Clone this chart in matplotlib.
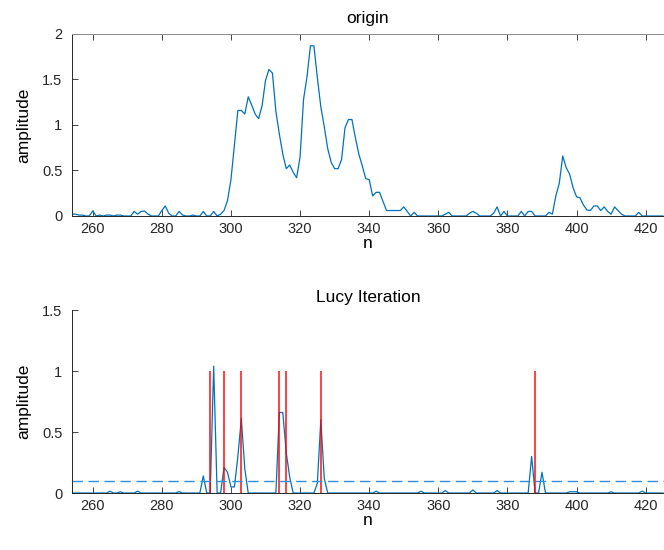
import numpy as np
import matplotlib
matplotlib.use('Agg')
import matplotlib.pyplot as plt

plt.rcParams['font.family'] = ['Liberation Sans', 'DejaVu Sans']

# sample index, one value per integer n
n = np.arange(254, 426)

origin = [
    0.02, 0.02, 0.01, 0.01, 0.0, 0.0, 0.055, 0.0, 0.01, 0.0,
    0.01, 0.01, 0.0, 0.01, 0.01, 0.0, 0.0, 0.0, 0.05, 0.02,
    0.05, 0.055, 0.02, 0.0, 0.0, 0.0, 0.06, 0.11, 0.03, 0.0,
    0.0, 0.05, 0.01, 0.0, 0.0, 0.01, 0.0, 0.0, 0.05, 0.0,
    0.0, 0.05, 0.0, 0.02, 0.06, 0.17, 0.40, 0.78, 1.16, 1.16,
    1.12, 1.31, 1.22, 1.12, 1.07, 1.21, 1.49, 1.61, 1.57, 1.15,
    0.90, 0.68, 0.52, 0.56, 0.48, 0.42, 0.65, 1.28, 1.53, 1.87,
    1.87, 1.52, 1.20, 0.98, 0.74, 0.59, 0.52, 0.52, 0.62, 0.97,
    1.06, 1.06, 0.86, 0.68, 0.55, 0.41, 0.40, 0.22, 0.26, 0.26,
    0.16, 0.06, 0.06, 0.06, 0.06, 0.06, 0.10, 0.05, 0.0, 0.04,
    0.0, 0.0, 0.0, 0.0, 0.0, 0.0, 0.0, 0.0, 0.02, 0.04,
    0.0, 0.0, 0.0, 0.0, 0.0, 0.03, 0.05, 0.03, 0.0, 0.0,
    0.0, 0.0, 0.03, 0.10, 0.0, 0.05, 0.0, 0.0, 0.0, 0.0,
    0.05, 0.0, 0.05, 0.05, 0.0, 0.0, 0.0, 0.0, 0.04, 0.02,
    0.22, 0.36, 0.66, 0.53, 0.46, 0.31, 0.21, 0.20, 0.12, 0.066,
    0.06, 0.11, 0.11, 0.06, 0.10, 0.05, 0.02, 0.10, 0.06, 0.02,
    0.0, 0.0, 0.0, 0.0, 0.04, 0.0, 0.0, 0.0, 0.0, 0.0,
    0.0, 0.0,
]

lucy = [
    0, 0, 0, 0, 0, 0, 0, 0, 0, 0,
    0, 0.015, 0, 0, 0.01, 0, 0, 0, 0, 0.015,
    0, 0, 0, 0, 0, 0, 0, 0, 0, 0,
    0, 0.012, 0, 0, 0, 0, 0, 0, 0.14, 0,
    0, 1.04, 0, 0, 0.21, 0.17, 0.05, 0.05, 0.30, 0.61,
    0.20, 0, 0, 0, 0, 0, 0, 0, 0, 0,
    0.66, 0.66, 0.33, 0.13, 0, 0, 0, 0, 0, 0,
    0, 0.08, 0.60, 0.12, 0, 0, 0, 0, 0, 0,
    0, 0, 0, 0, 0, 0, 0, 0, 0.015, 0,
    0, 0, 0, 0, 0, 0, 0, 0, 0, 0,
    0, 0.015, 0, 0, 0, 0, 0, 0, 0.02, 0,
    0, 0, 0, 0, 0, 0, 0.025, 0, 0, 0,
    0, 0, 0, 0.02, 0, 0, 0, 0, 0, 0,
    0, 0, 0, 0.30, 0, 0, 0.17, 0, 0, 0,
    0, 0, 0, 0, 0.01, 0.01, 0.01, 0, 0, 0,
    0, 0, 0, 0, 0, 0, 0.01, 0, 0, 0,
    0, 0, 0, 0, 0, 0.015, 0, 0, 0, 0,
    0, 0,
]

peaks = [294, 298, 303, 314, 316, 326, 388]
peak_height = 1
threshold = 0.1

blue = '#0072BD'
axcol = '#262626'

fig = plt.figure(figsize=(6.64, 5.5), dpi=100)
ax1 = fig.add_axes([0.1084, 0.6073, 0.8916, 0.3309])
ax2 = fig.add_axes([0.1084, 0.1036, 0.8916, 0.3327])

ax1.plot(n, origin, color=blue, lw=0.9)
ax1.set_ylim(0, 2)
ax1.set_yticks([0, 0.5, 1, 1.5, 2])
ax1.set_yticklabels(['0', '0.5', '1', '1.5', '2'])
ax1.set_title('origin', fontsize=12.5, pad=8)

ax2.plot(n, lucy, color=blue, lw=0.9)
ax2.vlines(peaks, 0, peak_height, color='red', lw=1.3, alpha=0.8)
ax2.axhline(threshold, color='#2f8fdc', lw=1.0, ls=(0, (7.5, 4)))
ax2.set_ylim(0, 1.5)
ax2.set_yticks([0, 0.5, 1, 1.5])
ax2.set_yticklabels(['0', '0.5', '1', '1.5'])
ax2.set_title('Lucy Iteration', fontsize=12.5, pad=6)

for ax in (ax1, ax2):
    ax.set_xlim(254, 425.3)
    ax.set_xticks(range(260, 421, 20))
    ax.set_xlabel('n', fontsize=12.5, labelpad=0)
    ax.set_ylabel('amplitude', fontsize=12.5, labelpad=8)
    ax.tick_params(direction='in', length=4, width=0.6, labelsize=10.5,
                   colors=axcol, pad=4)
    ax.tick_params(axis='y', pad=7)
    for s in ax.spines.values():
        s.set_color(axcol)
        s.set_linewidth(0.7)
    ax.spines['right'].set_visible(False)

ax1.tick_params(top=True)
ax1.spines['top'].set_color('#8a8a8a')
ax2.spines['top'].set_visible(False)

fig.savefig('out.png', dpi=100)
